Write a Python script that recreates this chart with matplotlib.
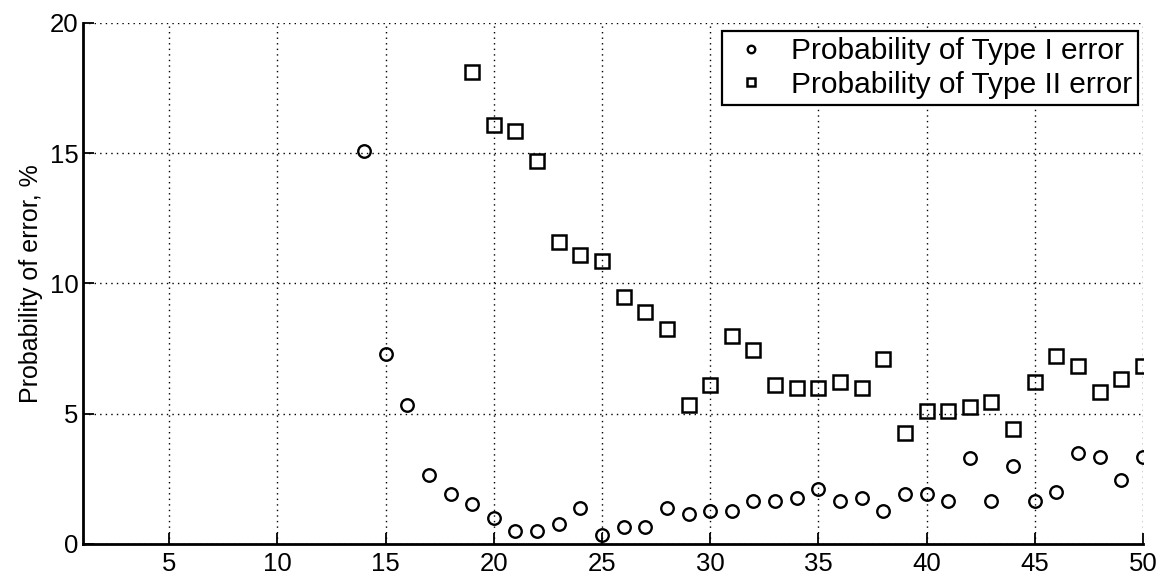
import numpy as np
import matplotlib
matplotlib.use("Agg")
import matplotlib.pyplot as plt

plt.rcParams['font.family'] = ['Liberation Sans', 'DejaVu Sans']

# Type I error (circles)
n_type1 = [14, 15, 16, 17, 18, 19, 20, 21, 22, 23, 24, 25, 26, 27, 28, 29, 30, 31,
           32, 33, 34, 35, 36, 37, 38, 39, 40, 41, 42, 43, 44, 45, 46, 47, 48, 49, 50]
p_type1 = [15.1, 7.3, 5.35, 2.65, 1.9, 1.55, 1.0, 0.5, 0.5, 0.75, 1.4, 0.35, 0.65, 0.65,
           1.4, 1.15, 1.25, 1.25, 1.65, 1.65, 1.75, 2.1, 1.65, 1.75, 1.25, 1.9, 1.9,
           1.65, 3.3, 1.65, 3.0, 1.65, 2.0, 3.5, 3.35, 2.45, 3.35]

# Type II error (squares)
n_type2 = [19, 20, 21, 22, 23, 24, 25, 26, 27, 28, 29, 30, 31, 32, 33, 34, 35, 36,
           37, 38, 39, 40, 41, 42, 43, 44, 45, 46, 47, 48, 49, 50]
p_type2 = [18.1, 16.1, 15.85, 14.7, 11.6, 11.1, 10.85, 9.5, 8.9, 8.25, 5.35, 6.1, 8.0,
           7.45, 6.1, 6.0, 6.0, 6.2, 6.0, 7.1, 4.25, 5.1, 5.1, 5.25, 5.45, 4.4, 6.2,
           7.2, 6.85, 5.85, 6.35, 6.85]

fig = plt.figure(figsize=(11.62, 5.76), dpi=100)
ax = fig.add_axes((0.0712, 0.0556, 0.9124, 0.9045))

ax.plot(n_type1, p_type1, linestyle='none', marker='o', markersize=9,
        markerfacecolor='none', markeredgecolor='black', markeredgewidth=1.7,
        label='Probability of Type I error')
ax.plot(n_type2, p_type2, linestyle='none', marker='s', markersize=9.5,
        markerfacecolor='none', markeredgecolor='black', markeredgewidth=1.8,
        label='Probability of Type II error')

ax.set_xlim(1, 50)
ax.set_ylim(0, 20)
ax.set_xticks(np.arange(5, 51, 5))
ax.set_yticks(np.arange(0, 21, 5))
ax.grid(True, linestyle=(0, (1, 3)), color='black', linewidth=1.0)
ax.tick_params(direction='in', length=8, width=1.3, labelsize=18.5)
ax.tick_params(axis='x', pad=6)
ax.tick_params(axis='y', pad=3)

for side in ['top', 'right']:
    ax.spines[side].set_visible(False)
for side in ['left', 'bottom']:
    ax.spines[side].set_linewidth(2)

ax.set_ylabel('Probability of error, %', fontsize=18, labelpad=5)

leg = ax.legend(loc='upper right', bbox_to_anchor=(1138 / 1162, 1 - 31 / 576),
                bbox_transform=fig.transFigure, borderaxespad=0,
                fontsize=21.5, markerscale=0.6, fancybox=False,
                edgecolor='black', framealpha=1, handlelength=1.5,
                handletextpad=0.6, borderpad=0.2, labelspacing=0.2)
leg.get_frame().set_linewidth(1.6)

plt.savefig('out.png', dpi=100)
